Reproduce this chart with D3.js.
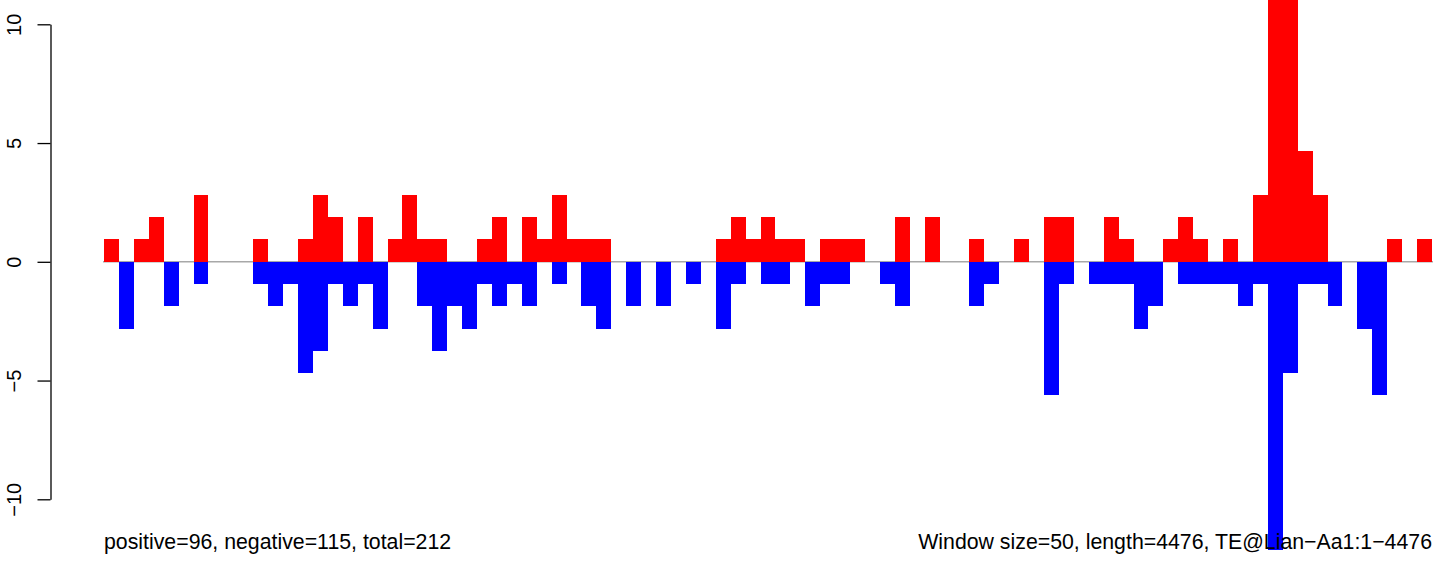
<!DOCTYPE html>
<html>
<head>
<meta charset="utf-8">
<script src="https://cdn.jsdelivr.net/npm/d3@7"></script>
<style>
  body { margin: 0; background: #fff; overflow: hidden; }
  text { font-family: "Liberation Sans", Arial, Helvetica, sans-serif; fill: #000; }
</style>
</head>
<body>
<script>
// one value per 50bp window (89 windows) in y-axis units
var positive = [
  0.95, 0, 0.95, 1.88, 0, 0, 2.81, 0, 0, 0,
  0.95, 0, 0, 0.95, 2.81, 1.88, 0, 1.88, 0, 0.95,
  2.81, 0.95, 0.95, 0, 0, 0.95, 1.88, 0, 1.88, 0.95,
  2.81, 0.95, 0.95, 0.95, 0, 0, 0, 0, 0, 0,
  0, 0.95, 1.88, 0.95, 1.88, 0.95, 0.95, 0, 0.95, 0.95,
  0.95, 0, 0, 1.88, 0, 1.88, 0, 0, 0.95, 0,
  0, 0.95, 0, 1.88, 1.88, 0, 0, 1.88, 0.95, 0,
  0, 0.95, 1.88, 0.95, 0, 0.95, 0, 2.81, 13.5, 12.6,
  4.68, 2.81, 0, 0, 0, 0, 0.95, 0, 0.95
];
var negative = [
  0, 2.81, 0, 0, 1.88, 0, 0.95, 0, 0, 0,
  0.95, 1.88, 0.95, 4.68, 3.74, 0.95, 1.88, 0.95, 2.81, 0,
  0, 1.88, 3.74, 1.88, 2.81, 0.95, 1.88, 0.95, 1.88, 0,
  0.95, 0, 1.88, 2.81, 0, 1.88, 0, 1.88, 0, 0.95,
  0, 2.81, 0.95, 0, 0.95, 0.95, 0, 1.88, 0.95, 0.95,
  0, 0, 0.95, 1.88, 0, 0, 0, 0, 1.88, 0.95,
  0, 0, 0, 5.61, 0.95, 0, 0.95, 0.95, 0.95, 2.81,
  1.88, 0, 0.95, 0.95, 0.95, 0.95, 1.88, 0.95, 12.12, 4.68,
  0.95, 0.95, 1.88, 0, 2.81, 5.61, 0, 0, 0
];
var yTicks = [-10, -5, 0, 5, 10];
var leftNote = "positive=96, negative=115, total=212";
var rightNote = "Window size=50, length=4476, TE@Lian\u2212Aa1:1\u22124476";

var width = 1452, height = 561;

var svg = d3.select("body").append("svg")
    .attr("width", width)
    .attr("height", height);

var x = d3.scaleBand()
    .domain(d3.range(positive.length))
    .range([104, 1432])
    .padding(0);

var y = d3.scaleLinear()
    .domain([-10, 10])
    .range([499.3, 24.3]);

// zero line goes under the bars
svg.append("line")
    .attr("x1", 103)
    .attr("x2", 1433)
    .attr("y1", y(0))
    .attr("y2", y(0))
    .attr("stroke", "#a8a8a8")
    .attr("stroke-width", 1.6);

svg.append("g").selectAll("rect")
    .data(positive)
    .enter().append("rect")
    .attr("x", function(d, i) { return x(i); })
    .attr("width", x.bandwidth())
    .attr("y", function(d) { return y(d); })
    .attr("height", function(d) { return y(0) - y(d); })
    .attr("fill", "#ff0000")
    .attr("shape-rendering", "crispEdges");

svg.append("g").selectAll("rect")
    .data(negative)
    .enter().append("rect")
    .attr("x", function(d, i) { return x(i); })
    .attr("width", x.bandwidth())
    .attr("y", y(0))
    .attr("height", function(d) { return y(-d) - y(0); })
    .attr("fill", "#0000ff")
    .attr("shape-rendering", "crispEdges");

// y axis, R style: vertical labels
var axis = svg.append("g")
    .attr("transform", "translate(50.5,0)")
    .call(d3.axisLeft(y)
        .tickValues(yTicks)
        .tickSizeInner(13)
        .tickSizeOuter(0)
        .tickFormat(function(d) { return d < 0 ? "\u2212" + Math.abs(d) : d; }));

axis.select(".domain").attr("stroke", "#000").attr("stroke-width", 1.3);
axis.selectAll(".tick line").attr("stroke", "#000").attr("stroke-width", 1.3);
axis.selectAll(".tick text")
    .attr("x", null)
    .attr("dy", null)
    .attr("transform", "translate(-30,0) rotate(-90)")
    .attr("text-anchor", "middle")
    .style("font-family", "'Liberation Sans', Arial, sans-serif")
    .style("font-size", "20px")
    .attr("fill", "#000");

svg.append("text")
    .attr("x", 104)
    .attr("y", 549)
    .attr("font-size", 21.3)
    .text(leftNote);

svg.append("text")
    .attr("x", 1432)
    .attr("y", 549)
    .attr("text-anchor", "end")
    .attr("font-size", 21.3)
    .text(rightNote);
</script>
</body>
</html>
